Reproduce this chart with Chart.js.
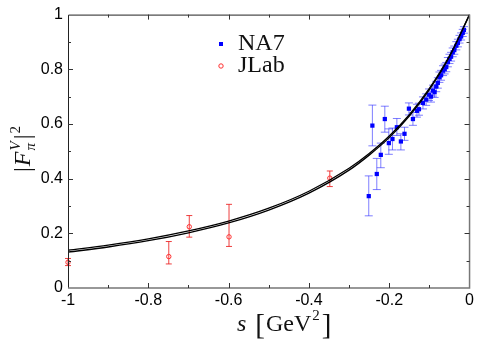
<!DOCTYPE html>
<html>
<head>
<meta charset="utf-8">
<script src="https://cdn.jsdelivr.net/npm/chart.js@4/dist/chart.umd.min.js"></script>
<style>
  html, body { margin: 0; padding: 0; background: #fff; }
  #wrap { width: 477px; height: 346px; }
</style>
</head>
<body>
<div id="wrap"><canvas id="chart" width="477" height="346"></canvas></div>
<script>
// NA7 data (s in GeV^2, |F|^2 and error band)
const na7S  = [-0.251,-0.242,-0.231,-0.221,-0.211,-0.201,-0.192,-0.181,-0.171,-0.162,-0.151,-0.141,-0.131,-0.126,-0.116,-0.108,-0.101,-0.096,-0.091,-0.087,-0.083,-0.079,-0.075,-0.071,-0.066,-0.062,-0.058,-0.054,-0.050,-0.046,-0.042,-0.038,-0.033,-0.029,-0.025,-0.021,-0.017,-0.014];
const na7F  = [0.336,0.594,0.417,0.487,0.618,0.530,0.545,0.588,0.536,0.564,0.656,0.618,0.648,0.654,0.677,0.689,0.707,0.700,0.722,0.716,0.737,0.750,0.771,0.778,0.795,0.801,0.808,0.826,0.838,0.846,0.862,0.870,0.886,0.896,0.910,0.920,0.933,0.944];
const na7Lo = [0.264,0.520,0.360,0.440,0.570,0.489,0.505,0.558,0.505,0.540,0.633,0.595,0.625,0.632,0.655,0.668,0.686,0.680,0.702,0.697,0.718,0.731,0.752,0.760,0.777,0.783,0.791,0.809,0.821,0.830,0.846,0.855,0.871,0.882,0.896,0.907,0.920,0.932];
const na7Hi = [0.410,0.669,0.474,0.530,0.665,0.582,0.585,0.620,0.564,0.588,0.677,0.642,0.672,0.676,0.699,0.710,0.728,0.720,0.742,0.735,0.756,0.769,0.790,0.796,0.813,0.819,0.825,0.843,0.855,0.862,0.878,0.885,0.901,0.910,0.924,0.933,0.946,0.956];

// JLab data
const jlabS  = [-1.0, -0.749, -0.698, -0.599, -0.348];
const jlabF  = [0.094, 0.115, 0.224, 0.187, 0.402];
const jlabLo = [0.082, 0.088, 0.186, 0.152, 0.371];
const jlabHi = [0.108, 0.170, 0.265, 0.306, 0.428];

// theory band edges
const curveS     = [-1, -0.9, -0.8, -0.7, -0.6, -0.5, -0.4, -0.3, -0.25, -0.2, -0.15, -0.1, -0.05, 0];
const curveUpper = [0.138, 0.157, 0.180, 0.209, 0.245, 0.292, 0.354, 0.438, 0.492, 0.556, 0.634, 0.730, 0.849, 1.0];
const curveLower = [0.131, 0.150, 0.173, 0.202, 0.238, 0.285, 0.347, 0.431, 0.486, 0.550, 0.629, 0.726, 0.846, 1.0];

// axis ticks
const xTicks = [-1, -0.8, -0.6, -0.4, -0.2, 0];
const yTicks = [0, 0.2, 0.4, 0.6, 0.8, 1];
const minorStep = 0.1;

const pts = (xs, ys) => xs.map((x, i) => ({ x: x, y: ys[i] }));

const errorBars = {
  id: 'errorBars',
  beforeDatasetsDraw(chart) {
    const ctx = chart.ctx;
    const xs = chart.scales.x, ys = chart.scales.y;
    chart.data.datasets.forEach(ds => {
      if (!ds.errLo) return;
      ctx.save();
      ctx.strokeStyle = ds.errColor;
      ctx.lineWidth = 1;
      ds.data.forEach((p, i) => {
        const px = xs.getPixelForValue(p.x);
        const y1 = ys.getPixelForValue(ds.errLo[i]);
        const y2 = ys.getPixelForValue(ds.errHi[i]);
        const c = ds.capHalf;
        ctx.beginPath();
        ctx.moveTo(px, y1); ctx.lineTo(px, y2);
        ctx.moveTo(px - c, y1); ctx.lineTo(px + c, y1);
        ctx.moveTo(px - c, y2); ctx.lineTo(px + c, y2);
        ctx.stroke();
      });
      ctx.restore();
    });
  }
};

const frame = {
  id: 'frame',
  afterDraw(chart) {
    const ctx = chart.ctx;
    const a = chart.chartArea;
    const xs = chart.scales.x, ys = chart.scales.y;
    ctx.save();
    ctx.lineWidth = 1;
    ctx.strokeStyle = '#222';
    ctx.beginPath();
    ctx.moveTo(a.left + 0.5, a.bottom); ctx.lineTo(a.left + 0.5, a.top + 0.5); ctx.lineTo(a.right, a.top + 0.5);
    ctx.stroke();
    ctx.strokeStyle = '#777';
    ctx.lineWidth = 1.5;
    ctx.beginPath();
    ctx.moveTo(a.left, a.bottom); ctx.lineTo(a.right, a.bottom); ctx.lineTo(a.right, a.top);
    ctx.stroke();
    ctx.strokeStyle = '#333';
    ctx.lineWidth = 1;
    ctx.beginPath();
    for (let k = 1; k < 10; k++) {
      const v = -1 + k * minorStep;
      const px = Math.round(xs.getPixelForValue(v)) + 0.5;
      const len = (k % 2 === 0) ? 5 : 3;
      ctx.moveTo(px, a.bottom); ctx.lineTo(px, a.bottom - len);
      ctx.moveTo(px, a.top); ctx.lineTo(px, a.top + len);
    }
    for (let k = 1; k < 10; k++) {
      const v = k * minorStep;
      const py = Math.round(ys.getPixelForValue(v)) + 0.5;
      const len = (k % 2 === 0) ? 5 : 3;
      ctx.moveTo(a.left, py); ctx.lineTo(a.left + len, py);
      ctx.moveTo(a.right, py); ctx.lineTo(a.right - len, py);
    }
    ctx.stroke();

    // legend
    ctx.fillStyle = '#0000ff';
    ctx.fillRect(219, 42, 4, 4);
    ctx.strokeStyle = '#ff3030';
    ctx.beginPath();
    ctx.arc(221, 66, 2.2, 0, Math.PI * 2);
    ctx.stroke();
    ctx.fillStyle = '#111';
    ctx.font = '24px "Liberation Serif"';
    ctx.textBaseline = 'alphabetic';
    ctx.textAlign = 'left';
    ctx.fillText('NA7', 238, 50);
    ctx.fillText('JLab', 238, 72);

    // x title: s [GeV^2]
    let x = 237;
    const by = 331;
    ctx.font = 'italic 24px "Liberation Serif"';
    ctx.fillText('s', x, by);
    x += ctx.measureText('s').width + 9;
    ctx.font = '29px "Liberation Serif"';
    ctx.fillText('[', x, by + 3);
    x += ctx.measureText('[').width + 1;
    ctx.font = '24px "Liberation Serif"';
    ctx.fillText('GeV', x, by);
    x += ctx.measureText('GeV').width + 1;
    ctx.font = '15px "Liberation Serif"';
    ctx.fillText('2', x, by - 11);
    x += ctx.measureText('2').width + 2;
    ctx.font = '29px "Liberation Serif"';
    ctx.fillText(']', x, by + 3);

    // y title: |F_pi^V|^2
    ctx.translate(30, 172);
    ctx.rotate(-Math.PI / 2);
    let t = 0;
    ctx.font = '24px "Liberation Serif"';
    ctx.fillText('|', t, 0);
    t += ctx.measureText('|').width + 1;
    ctx.font = 'italic 24px "Liberation Serif"';
    ctx.fillText('F', t, 0);
    t += ctx.measureText('F').width + 1;
    ctx.font = 'italic 15px "Liberation Serif"';
    ctx.fillText('V', t, -10);
    ctx.fillText('\u03c0', t, 5);
    t += ctx.measureText('V').width + 2;
    ctx.font = '24px "Liberation Serif"';
    ctx.fillText('|', t, 0);
    t += ctx.measureText('|').width + 1;
    ctx.font = '15px "Liberation Serif"';
    ctx.fillText('2', t, -10);
    ctx.restore();
  }
};

new Chart(document.getElementById('chart'), {
  type: 'scatter',
  data: {
    datasets: [
      {
        label: 'band upper',
        type: 'line',
        data: pts(curveS, curveUpper),
        borderColor: '#000',
        borderWidth: 1.3,
        pointRadius: 0,
        cubicInterpolationMode: 'monotone',
        fill: false
      },
      {
        label: 'band lower',
        type: 'line',
        data: pts(curveS, curveLower),
        borderColor: '#000',
        borderWidth: 1.3,
        pointRadius: 0,
        cubicInterpolationMode: 'monotone',
        fill: false
      },
      {
        label: 'NA7',
        data: pts(na7S, na7F),
        errLo: na7Lo, errHi: na7Hi,
        errColor: 'rgba(40,40,255,0.6)', capHalf: 4,
        pointStyle: 'rect',
        pointRadius: 3,
        backgroundColor: '#0000ff',
        borderColor: '#0000ff',
        borderWidth: 0,
        clip: false
      },
      {
        label: 'JLab',
        data: pts(jlabS, jlabF),
        errLo: jlabLo, errHi: jlabHi,
        errColor: 'rgba(235,30,30,0.85)', capHalf: 3,
        pointStyle: 'circle',
        pointRadius: 2.2,
        backgroundColor: 'rgba(255,255,255,0)',
        borderColor: '#ff3030',
        borderWidth: 1,
        clip: false
      }
    ]
  },
  options: {
    responsive: false,
    animation: false,
    layout: { padding: { left: 0, right: 6, top: 8, bottom: 0 } },
    plugins: { legend: { display: false }, tooltip: { enabled: false } },
    scales: {
      x: {
        type: 'linear',
        min: -1, max: 0,
        afterBuildTicks: s => { s.ticks = xTicks.map(v => ({ value: v })); },
        afterFit: s => { s.height = 58; },
        grid: { display: false, drawTicks: false },
        border: { display: false },
        ticks: {
          padding: 3,
          color: '#000',
          font: { family: '"Liberation Sans"', size: 16 },
          maxRotation: 0,
          callback: v => String(Math.round(v * 10) / 10)
        }
      },
      y: {
        type: 'linear',
        min: 0, max: 1,
        afterBuildTicks: s => { s.ticks = yTicks.map(v => ({ value: v })); },
        afterFit: s => { s.width = 68; },
        grid: { display: false, drawTicks: false },
        border: { display: false },
        ticks: {
          padding: 5,
          color: '#000',
          font: { family: '"Liberation Sans"', size: 16 },
          callback: v => String(Math.round(v * 10) / 10)
        }
      }
    }
  },
  plugins: [errorBars, frame]
});
</script>
</body>
</html>
